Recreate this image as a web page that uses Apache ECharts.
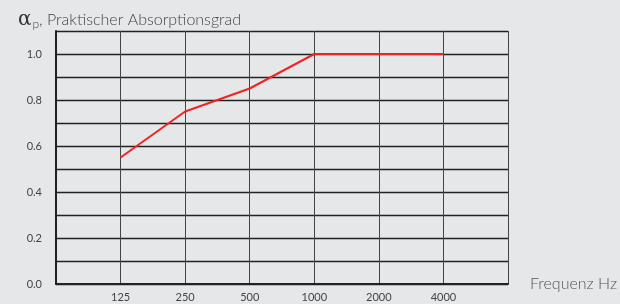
<!DOCTYPE html>
<html>
<head>
<meta charset="utf-8">
<script src="https://cdn.jsdelivr.net/npm/echarts@6/dist/echarts.min.js"></script>
<style>
  html, body { margin: 0; padding: 0; background: #e6e7e9; }
  #chart { width: 620px; height: 304px; }
</style>
</head>
<body>
<div id="chart"></div>
<script>
// frequencies (empty slots at both ends are the grid borders)
const categories = ['', '125', '250', '500', '1000', '2000', '4000', ''];
const absorption = [null, 0.55, 0.75, 0.85, 1.0, 1.0, 1.0, null];
const yLabels = ['0.0', '0.2', '0.4', '0.6', '0.8', '1.0'];

const chart = echarts.init(document.getElementById('chart'));

const option = {
  backgroundColor: '#e6e7e9',
  animation: false,
  title: {
    left: 13,
    top: 4,
    text: '{a|α}{s|p}{t|, Praktischer Absorptionsgrad}',
    textStyle: {
      fontWeight: 'normal',
      rich: {
        a: { fontFamily: 'DejaVu Serif', fontSize: 20, fontWeight: 'normal', color: '#333' },
        s: { fontFamily: 'Lato', fontSize: 12, fontWeight: 300, color: '#444', verticalAlign: 'bottom', padding: [9, 0, 0, 1] },
        t: { fontFamily: 'Lato', fontSize: 16, fontWeight: 300, color: '#444' }
      }
    }
  },
  grid: { left: 56, right: 112, top: 31, bottom: 20 },
  xAxis: {
    type: 'category',
    data: categories,
    boundaryGap: false,
    name: 'Frequenz Hz',
    nameLocation: 'end',
    nameGap: 22,
    nameTextStyle: { fontFamily: 'Lato', fontSize: 16, fontWeight: 300, color: '#555', verticalAlign: 'middle' },
    axisLine: { lineStyle: { color: '#222', width: 2 } },
    axisTick: { show: false },
    axisLabel: { fontFamily: 'Lato', fontSize: 11, color: '#444', margin: 8 },
    splitLine: { show: true, lineStyle: { color: '#444', width: 1 } }
  },
  yAxis: {
    type: 'value',
    min: 0,
    max: 1.1,
    interval: 0.1,
    axisLine: { show: true, lineStyle: { color: '#222', width: 2 } },
    axisTick: { show: false },
    axisLabel: {
      fontFamily: 'Lato', fontSize: 11, color: '#444', margin: 14,
      formatter: v => {
        const s = v.toFixed(1);
        return yLabels.indexOf(s) >= 0 && Math.round(v * 10) % 2 === 0 ? s : '';
      }
    },
    splitLine: { show: true, lineStyle: { color: '#222', width: 1.3 } }
  },
  series: [{
    type: 'line',
    data: absorption,
    symbol: 'none',
    lineStyle: { color: '#ee2424', width: 2 }
  }]
};

chart.setOption(option);
</script>
</body>
</html>
